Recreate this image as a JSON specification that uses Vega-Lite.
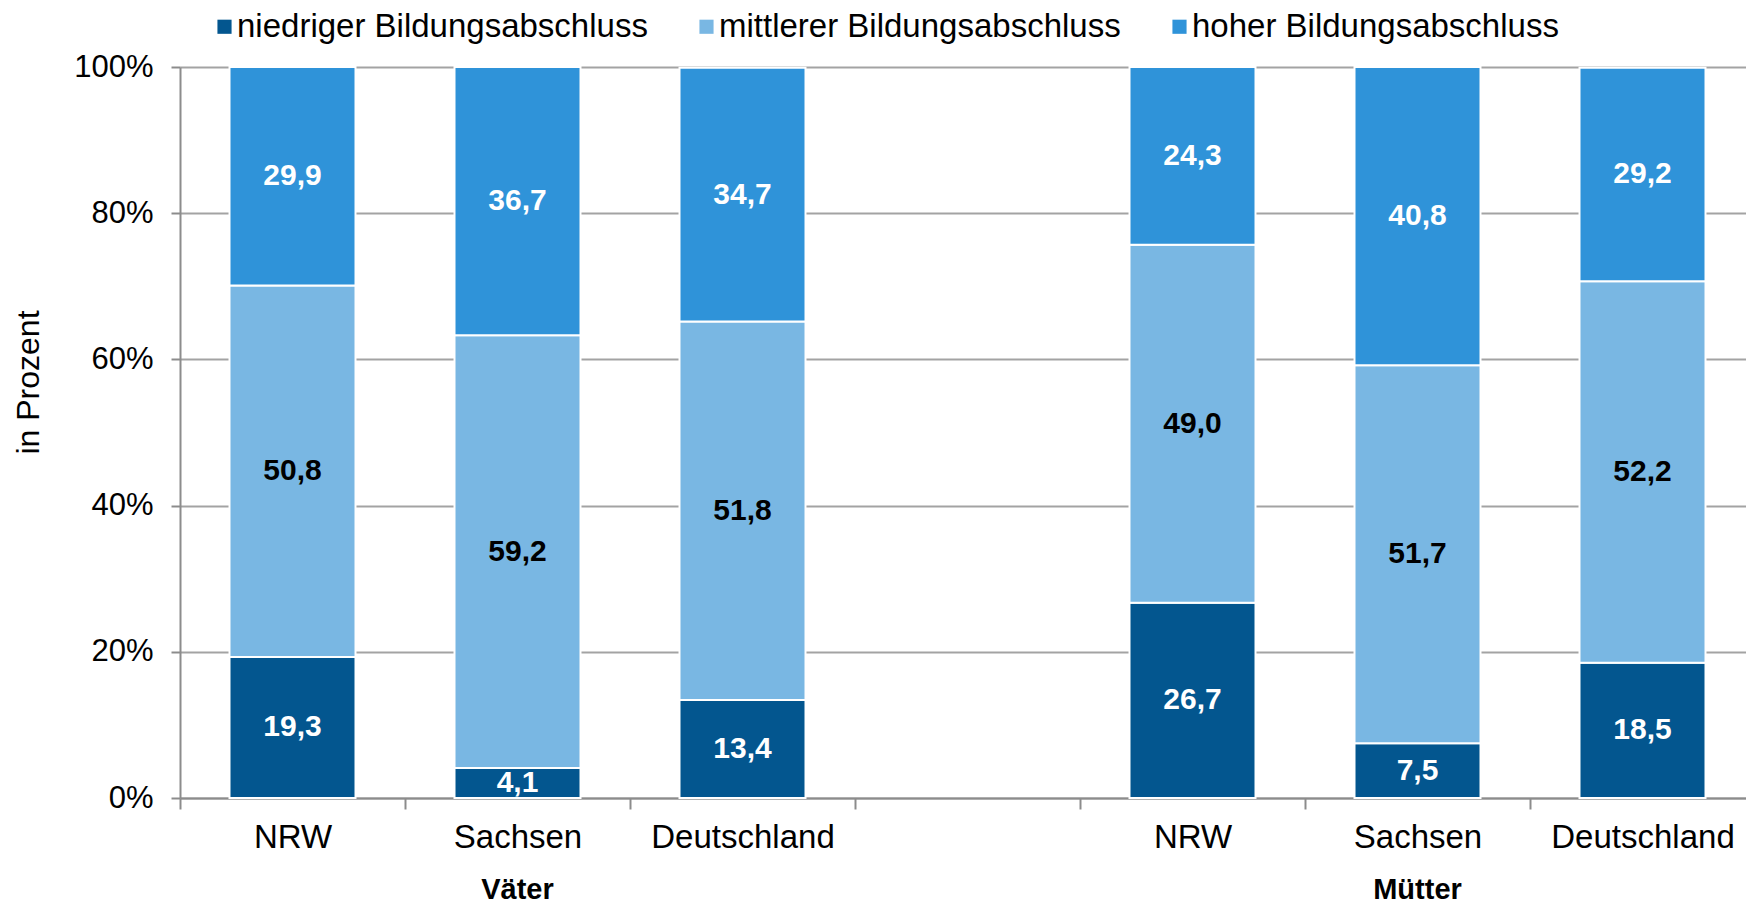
{
  "$schema": "https://vega.github.io/schema/vega-lite/v6.json",
  "autosize": {"type": "none"},
  "width": 1575,
  "height": 731,
  "padding": {"left": 180, "top": 67, "right": 0, "bottom": 107},
  "background": "white",
  "config": {
    "view": {"stroke": null},
    "font": "Liberation Sans",
    "locale": {"number": {"decimal": ",", "thousands": ".", "grouping": [3], "currency": ["", " €"]}}
  },
  "datasets": {
    "bars": [
      {"slot": "V|NRW", "level": "niedriger Bildungsabschluss", "rank": 1, "value": 19.3},
      {"slot": "V|NRW", "level": "mittlerer Bildungsabschluss", "rank": 2, "value": 50.8},
      {"slot": "V|NRW", "level": "hoher Bildungsabschluss", "rank": 3, "value": 29.9},
      {"slot": "V|Sachsen", "level": "niedriger Bildungsabschluss", "rank": 1, "value": 4.1},
      {"slot": "V|Sachsen", "level": "mittlerer Bildungsabschluss", "rank": 2, "value": 59.2},
      {"slot": "V|Sachsen", "level": "hoher Bildungsabschluss", "rank": 3, "value": 36.7},
      {"slot": "V|Deutschland", "level": "niedriger Bildungsabschluss", "rank": 1, "value": 13.4},
      {"slot": "V|Deutschland", "level": "mittlerer Bildungsabschluss", "rank": 2, "value": 51.8},
      {"slot": "V|Deutschland", "level": "hoher Bildungsabschluss", "rank": 3, "value": 34.7},
      {"slot": "M|NRW", "level": "niedriger Bildungsabschluss", "rank": 1, "value": 26.7},
      {"slot": "M|NRW", "level": "mittlerer Bildungsabschluss", "rank": 2, "value": 49.0},
      {"slot": "M|NRW", "level": "hoher Bildungsabschluss", "rank": 3, "value": 24.3},
      {"slot": "M|Sachsen", "level": "niedriger Bildungsabschluss", "rank": 1, "value": 7.5},
      {"slot": "M|Sachsen", "level": "mittlerer Bildungsabschluss", "rank": 2, "value": 51.7},
      {"slot": "M|Sachsen", "level": "hoher Bildungsabschluss", "rank": 3, "value": 40.8},
      {"slot": "M|Deutschland", "level": "niedriger Bildungsabschluss", "rank": 1, "value": 18.5},
      {"slot": "M|Deutschland", "level": "mittlerer Bildungsabschluss", "rank": 2, "value": 52.2},
      {"slot": "M|Deutschland", "level": "hoher Bildungsabschluss", "rank": 3, "value": 29.2}
    ],
    "groups": [
      {"slot": "V|Sachsen", "group": "Väter"},
      {"slot": "M|Sachsen", "group": "Mütter"}
    ]
  },
  "data": {"name": "bars"},
  "encoding": {
    "x": {
      "field": "slot",
      "type": "nominal",
      "sort": null,
      "scale": {
        "domain": ["V|NRW", "V|Sachsen", "V|Deutschland", "gap", "M|NRW", "M|Sachsen", "M|Deutschland"],
        "paddingInner": 0,
        "paddingOuter": 0
      },
      "axis": {
        "title": null,
        "labelAngle": 0,
        "labelExpr": "datum.value == 'gap' ? '' : split(datum.value, '|')[1]",
        "labelFontSize": 33,
        "labelLimit": 0,
        "labelColor": "black",
        "labelPadding": 12,
        "tickBand": "extent",
        "tickSize": 11,
        "tickColor": "#8C8C8C",
        "tickWidth": 2,
        "domainColor": "#8C8C8C",
        "domainWidth": 2,
        "grid": false
      }
    }
  },
  "layer": [
    {
      "mark": {"type": "bar", "stroke": "white", "strokeWidth": 2, "width": {"band": 0.56}},
      "encoding": {
        "y": {
          "field": "value",
          "type": "quantitative",
          "stack": "zero",
          "scale": {"domain": [0, 100], "nice": false},
          "axis": {
            "title": "in Prozent",
            "titleFontSize": 32,
            "titleFontWeight": "normal",
            "titleColor": "black",
            "titlePadding": 28,
            "titleY": 315,
            "values": [0, 20, 40, 60, 80, 100],
            "labelExpr": "datum.value + '%'",
            "labelFontSize": 31,
            "labelColor": "black",
            "labelPadding": 18,
            "tickSize": 9,
            "tickColor": "#8C8C8C",
            "tickWidth": 2,
            "domainColor": "#8C8C8C",
            "domainWidth": 2,
            "grid": true,
            "gridColor": "#A3A3A3",
            "gridWidth": 2
          }
        },
        "color": {
          "field": "level",
          "type": "nominal",
          "scale": {
            "domain": ["niedriger Bildungsabschluss", "mittlerer Bildungsabschluss", "hoher Bildungsabschluss"],
            "range": ["#03568F", "#79B7E3", "#2F93D9"]
          },
          "legend": {
            "title": null,
            "orient": "none",
            "legendX": 28,
            "legendY": -57,
            "direction": "horizontal",
            "symbolType": "square",
            "symbolSize": 200,
            "symbolStrokeWidth": 0,
            "labelFontSize": 33,
            "labelLimit": 0,
            "labelColor": "black",
            "labelOffset": -4,
            "columnPadding": 42
          }
        },
        "order": {"field": "rank", "type": "quantitative"}
      }
    },
    {
      "mark": {"type": "text", "fontSize": 30, "fontWeight": "bold", "baseline": "middle", "align": "center"},
      "encoding": {
        "y": {"field": "value", "type": "quantitative", "stack": "zero", "bandPosition": 0.5},
        "detail": {"field": "level"},
        "order": {"field": "rank", "type": "quantitative"},
        "text": {"field": "value", "type": "quantitative", "format": ".1f"},
        "fill": {
          "condition": {"test": "datum.level === 'mittlerer Bildungsabschluss'", "value": "black"},
          "value": "white"
        }
      }
    },
    {
      "data": {"name": "groups"},
      "mark": {"type": "text", "fontSize": 29, "fontWeight": "bold", "baseline": "middle", "align": "center", "dy": 92, "fill": "black"},
      "encoding": {
        "y": {"datum": 0, "type": "quantitative"},
        "text": {"field": "group"}
      }
    }
  ]
}
